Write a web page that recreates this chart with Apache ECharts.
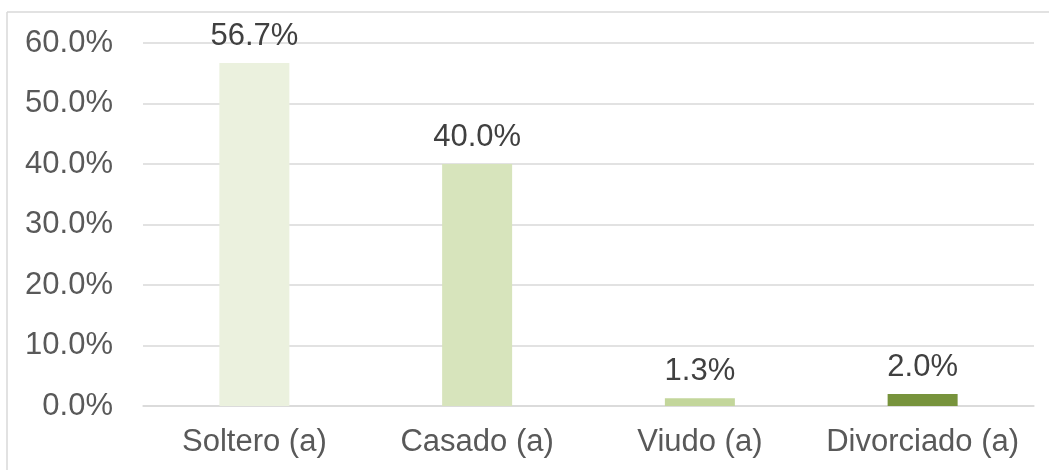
<!DOCTYPE html>
<html>
<head>
<meta charset="utf-8">
<script src="https://cdn.jsdelivr.net/npm/echarts@6/dist/echarts.min.js"></script>
<style>
  html, body { margin: 0; padding: 0; background: #fff; }
  #chart { width: 1049px; height: 470px; }
</style>
</head>
<body>
<div id="chart"></div>
<script>
// datos
var categorias = ['Soltero (a)', 'Casado (a)', 'Viudo (a)', 'Divorciado (a)'];
var valores = [56.7, 40.0, 1.3, 2.0];
var colores = ['#EBF1DE', '#D7E4BC', '#C3D69B', '#77933C'];

var chart = echarts.init(document.getElementById('chart'));
chart.setOption({
  animation: false,
  textStyle: { fontFamily: 'Liberation Sans, Arial, sans-serif' },
  graphic: [
    // marco del gráfico (solo borde superior e izquierdo visibles)
    { type: 'line', shape: { x1: 7, y1: 12, x2: 1049, y2: 12 }, style: { stroke: '#d9d9d9', lineWidth: 1.5 } },
    { type: 'line', shape: { x1: 7, y1: 12, x2: 7, y2: 470 }, style: { stroke: '#d9d9d9', lineWidth: 1.5 } }
  ],
  grid: { left: 143, right: 15, top: 43, bottom: 64 },
  xAxis: {
    type: 'category',
    data: categorias,
    axisLine: { lineStyle: { color: '#d9d9d9', width: 1.5 } },
    axisTick: { show: false },
    axisLabel: { color: '#595959', fontSize: 31, margin: 21, interval: 0 }
  },
  yAxis: {
    type: 'value',
    min: 0, max: 60, interval: 10,
    axisLine: { show: false },
    axisTick: { show: false },
    splitLine: { lineStyle: { color: '#d9d9d9', width: 1.5 } },
    axisLabel: {
      color: '#595959', fontSize: 31, margin: 30,
      formatter: function (v) { return v.toFixed(1) + '%'; }
    }
  },
  series: [{
    type: 'bar',
    barWidth: 70,
    data: valores.map(function (v, i) {
      return { value: v, itemStyle: { color: colores[i] } };
    }),
    label: {
      show: true,
      position: 'top',
      distance: 11,
      color: '#404040',
      fontSize: 31,
      formatter: function (p) { return p.value.toFixed(1) + '%'; }
    }
  }]
});
</script>
</body>
</html>
